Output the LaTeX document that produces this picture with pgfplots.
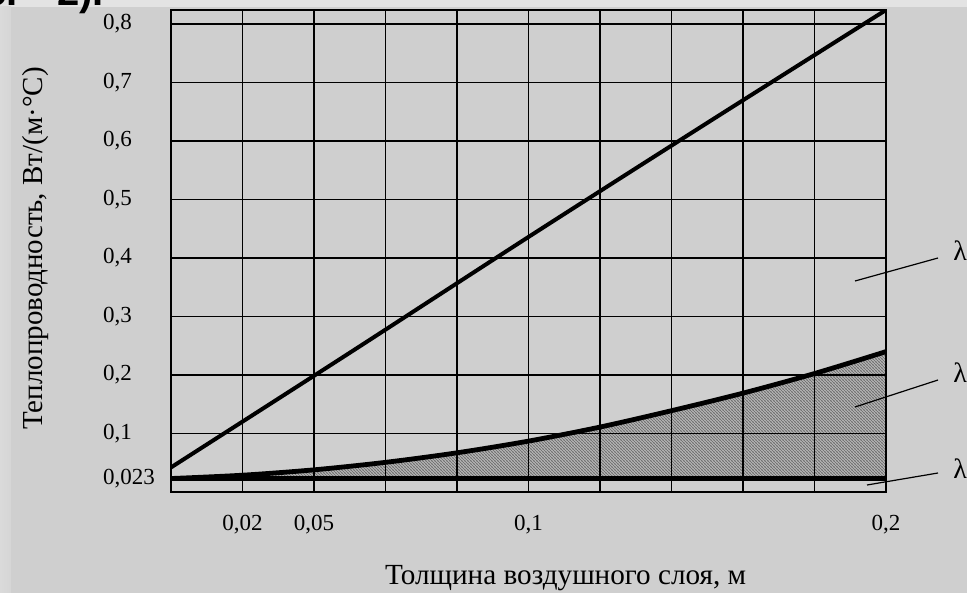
\documentclass[border=0pt]{standalone}
\usepackage{fontspec}
\setmainfont{Liberation Serif}
\newfontfamily\headsans{Liberation Sans}
\usepackage{pgfplots}
\pgfplotsset{compat=1.18}
\usetikzlibrary{patterns}

\definecolor{bg}{HTML}{CFCFCF}
\definecolor{bgtop}{HTML}{E3E3E3}
\definecolor{bgleft}{HTML}{DADADA}
\definecolor{hatchbg}{HTML}{C2C2C2}

\pgfdeclarepatternformonly{finehatch}{\pgfqpoint{-1pt}{-1pt}}{\pgfqpoint{2.5pt}{2.5pt}}{\pgfqpoint{1.5pt}{1.5pt}}%
{
  \pgfsetlinewidth{0.4pt}
  \pgfpathmoveto{\pgfqpoint{0pt}{1.5pt}}
  \pgfpathlineto{\pgfqpoint{1.5pt}{0pt}}
  \pgfpathmoveto{\pgfqpoint{-0.1pt}{0.1pt}}
  \pgfpathlineto{\pgfqpoint{0.1pt}{-0.1pt}}
  \pgfpathmoveto{\pgfqpoint{1.4pt}{1.6pt}}
  \pgfpathlineto{\pgfqpoint{1.6pt}{1.4pt}}
  \pgfusepath{stroke}
}

\begin{document}
\begin{tikzpicture}
% background
\fill[bg] (-85.5pt,-50.5pt) rectangle (398pt,246pt);
\fill[bgtop] (-85.5pt,242.5pt) rectangle (398pt,246pt);
\shade[left color=bgleft, right color=bgleft!60!bg] (-85.5pt,-50.5pt) rectangle (-80pt,242.5pt);
\node[anchor=base east, inner sep=0pt, font=\headsans\bfseries\fontsize{20}{24}\selectfont] at (-76.5pt,243pt) {с.};
\node[anchor=base west, inner sep=0pt, font=\headsans\bfseries\fontsize{20}{24}\selectfont] at (-57pt,243pt) {2).};

\begin{axis}[
  at={(0,0)}, anchor=south west,
  scale only axis, width=357.5pt, height=241pt,
  xmin=0, xmax=0.2, ymin=0, ymax=0.824,
  xtick={0,0.02,0.04,0.06,0.08,0.1,0.12,0.14,0.16,0.18,0.2},
  xticklabels={{},{0,02},{0,05},{},{},{0,1},{},{},{},{},{0,2}},
  ytick={0.023,0.1,0.2,0.3,0.4,0.5,0.6,0.7,0.8},
  yticklabels={{0,023},{0,1},{0,2},{0,3},{0,4},{0,5},{0,6},{0,7},{0,8}},
  grid=major,
  major grid style={black, line width=0.8pt},
  axis line style={black, line width=0.9pt},
  major tick length=0pt,
  tick label style={font=\fontsize{11.5}{13}\selectfont},
  yticklabel style={anchor=west, xshift=-37.5pt},
  xticklabel style={yshift=-8pt},
  xlabel={Толщина воздушного слоя, м},
  xlabel style={at={(axis description cs:0.552,-0.178)}, anchor=center, font=\fontsize{14.6}{16}\selectfont},
  ylabel={Теплопроводность, Вт/(м·°C)},
  ylabel style={at={(axis description cs:-0.190,0.505)}, anchor=center, font=\fontsize{14.5}{16}\selectfont},
  axis on top,
]
% hatched region between lambda2 and lambda3
\addplot[draw=none, fill=hatchbg] coordinates {
  (0,0.023) (0.01,0.0254) (0.02,0.0287) (0.03,0.0329) (0.04,0.0379) (0.05,0.0438) (0.06,0.0507)
  (0.07,0.0584) (0.08,0.0670) (0.09,0.0766) (0.10,0.0870) (0.11,0.0984)
  (0.12,0.1110) (0.13,0.1245) (0.14,0.1390) (0.15,0.1535) (0.16,0.1690) (0.17,0.1855)
  (0.18,0.2025) (0.19,0.2205) (0.20,0.2400) (0.20,0.023)} -- cycle;
\addplot[draw=none, pattern=finehatch, pattern color=black!55] coordinates {
  (0,0.023) (0.01,0.0254) (0.02,0.0287) (0.03,0.0329) (0.04,0.0379) (0.05,0.0438) (0.06,0.0507)
  (0.07,0.0584) (0.08,0.0670) (0.09,0.0766) (0.10,0.0870) (0.11,0.0984)
  (0.12,0.1110) (0.13,0.1245) (0.14,0.1390) (0.15,0.1535) (0.16,0.1690) (0.17,0.1855)
  (0.18,0.2025) (0.19,0.2205) (0.20,0.2400) (0.20,0.023)} -- cycle;
% lambda2
\addplot[black, line width=2.4pt, smooth] coordinates {
  (0,0.023) (0.02,0.0287) (0.04,0.0379) (0.06,0.0507) (0.08,0.0670) (0.10,0.0870)
  (0.12,0.1110) (0.14,0.1390) (0.16,0.1690) (0.18,0.2025) (0.20,0.2400)};
% lambda3
\addplot[black, line width=2.4pt] coordinates {(0,0.023) (0.2,0.023)};
% lambda1
\addplot[black, line width=2pt, smooth] coordinates {
  (0,0.042) (0.05,0.238) (0.1,0.436) (0.15,0.631) (0.2,0.824)};
\end{axis}

\draw[line width=0.6pt] (342pt,105.5pt) -- (383.5pt,117pt);
\draw[line width=0.6pt] (342pt,42.5pt) -- (383.5pt,56pt);
\draw[line width=0.6pt] (348pt,3.5pt) -- (383.5pt,9.5pt);
\node[anchor=west, inner sep=0pt, font=\fontsize{14}{16}\selectfont] at (391pt,120.5pt) {λ};
\node[anchor=west, inner sep=0pt, font=\fontsize{14}{16}\selectfont] at (391pt,59.5pt) {λ};
\node[anchor=west, inner sep=0pt, font=\fontsize{14}{16}\selectfont] at (391pt,11.5pt) {λ};

\pgfresetboundingbox
\useasboundingbox (-85.5pt,-50.5pt) rectangle (398pt,246pt);
\end{tikzpicture}
\end{document}
